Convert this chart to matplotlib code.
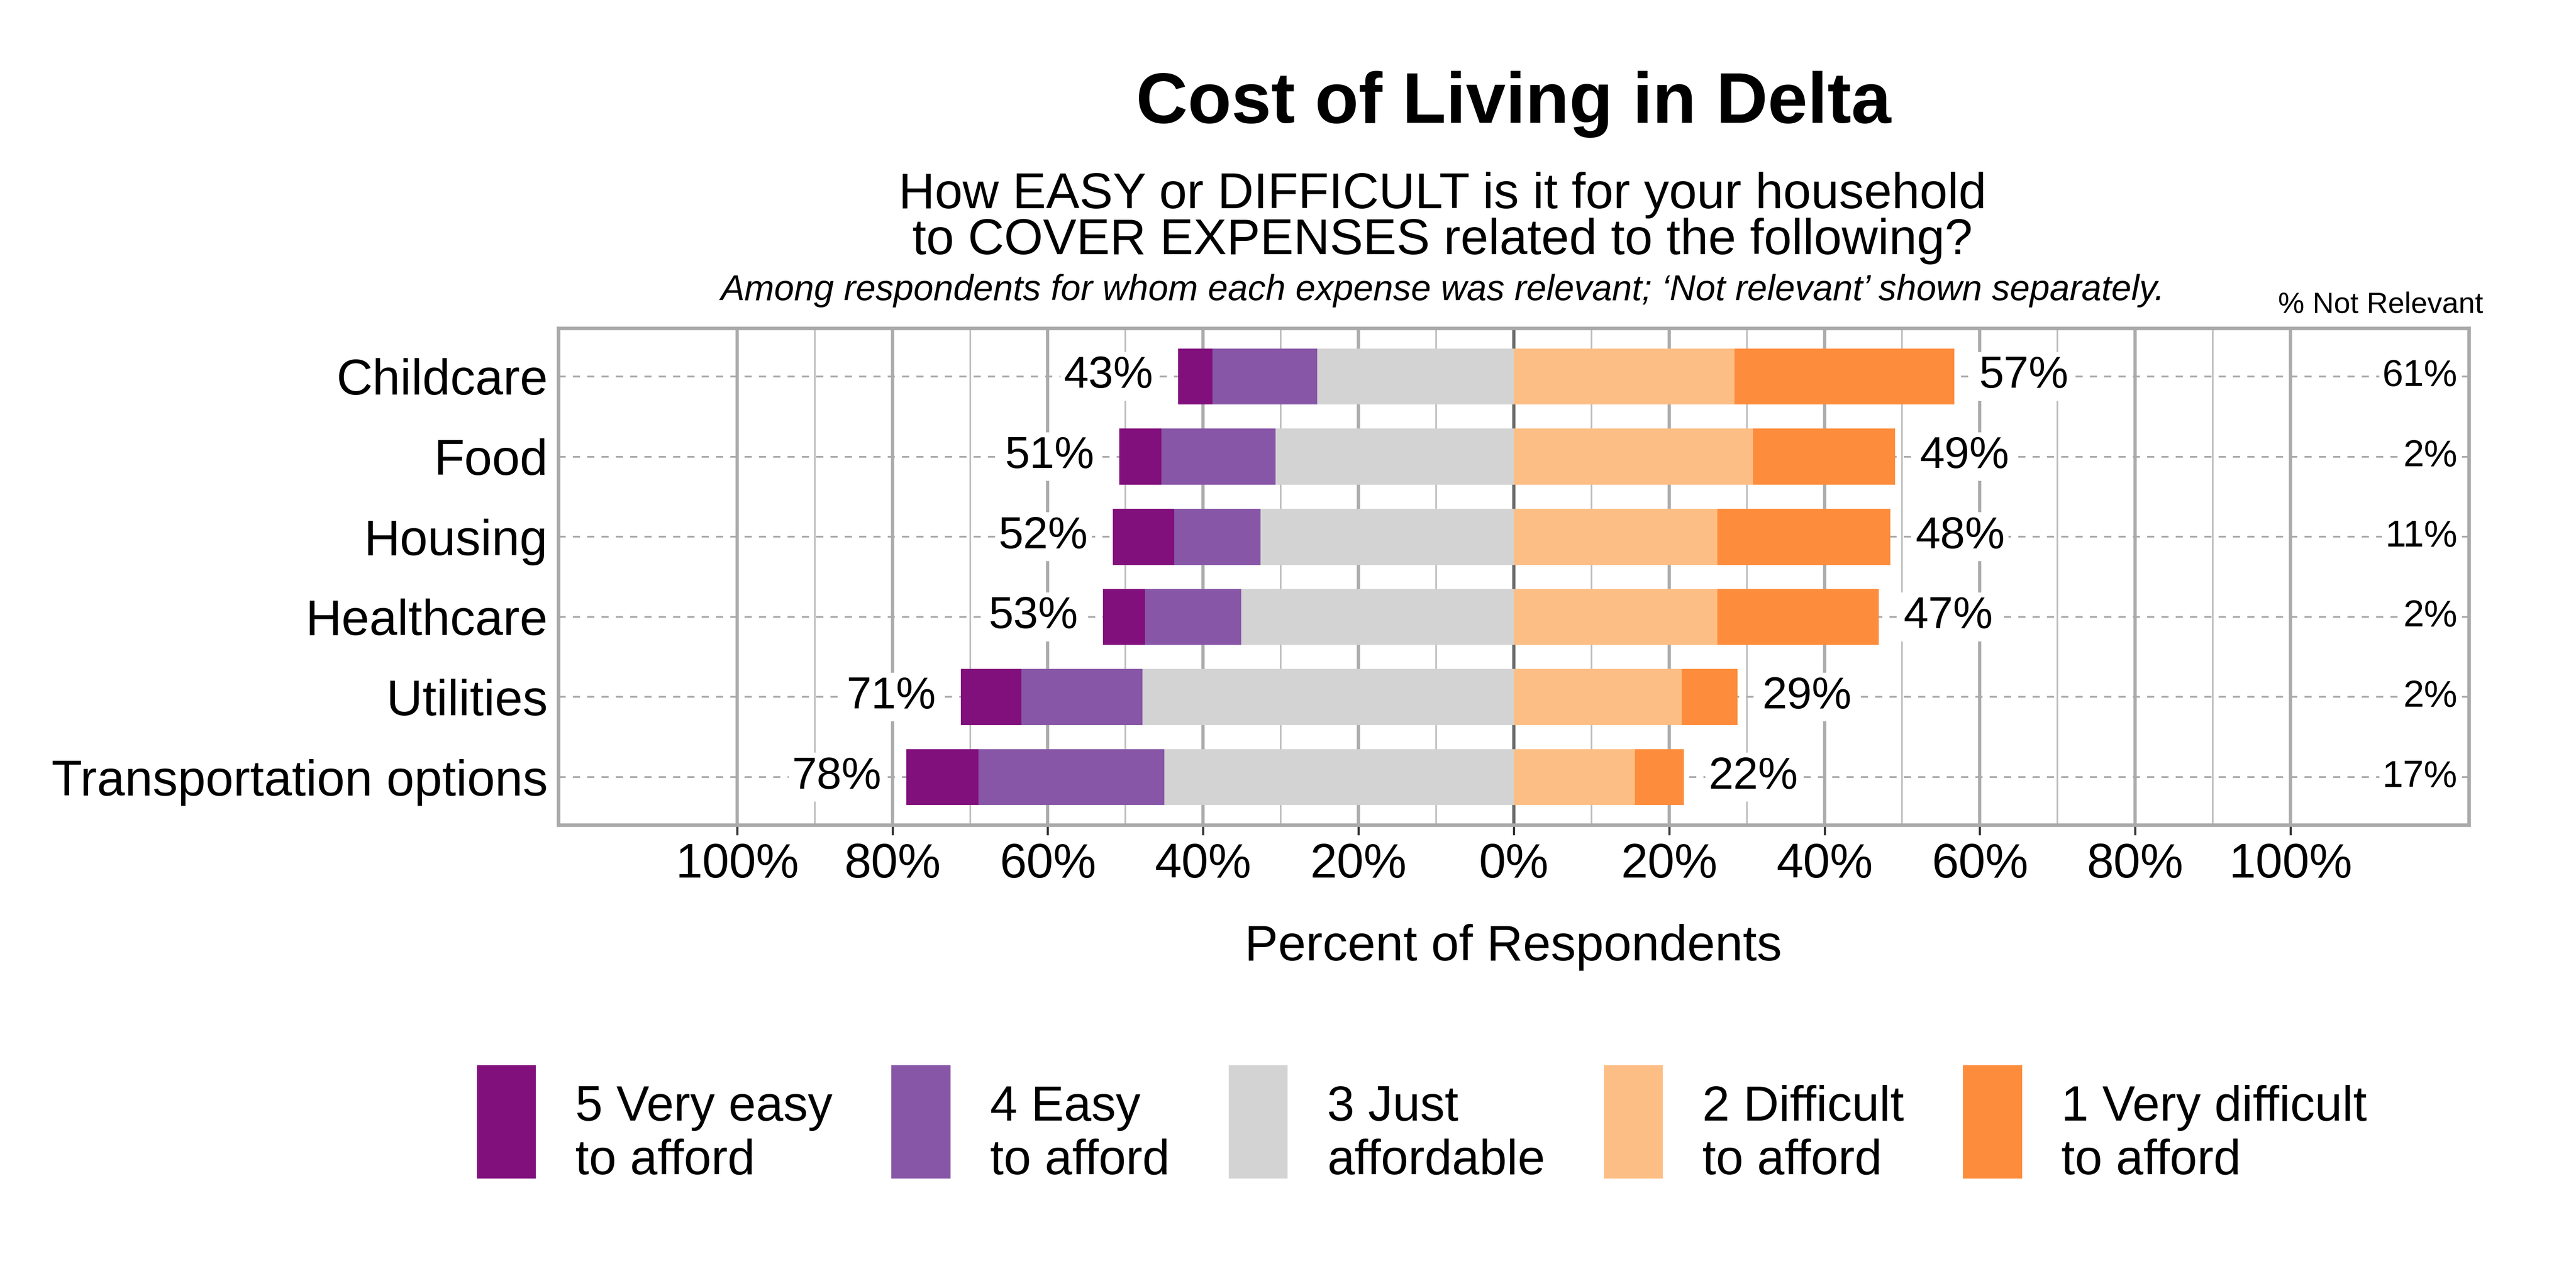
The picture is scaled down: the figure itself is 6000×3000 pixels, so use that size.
import numpy as np
import matplotlib
matplotlib.use("Agg")
import matplotlib.pyplot as plt
from matplotlib.patches import Patch, Rectangle
from matplotlib.legend_handler import HandlerPatch

plt.rcParams["font.family"] = ["Liberation Sans", "DejaVu Sans"]

# ---- data (percent of respondents) ----
categories = ["Childcare", "Food", "Housing", "Healthcare", "Utilities",
              "Transportation options"]
very_easy = [4.4, 5.4, 7.9, 5.4, 7.8, 9.3]
easy = [13.5, 14.7, 11.1, 12.4, 15.6, 23.9]
just_affordable = [25.3, 30.7, 32.6, 35.1, 47.8, 45.0]
difficult = [28.4, 30.8, 26.2, 26.2, 21.6, 15.6]
very_difficult = [28.3, 18.3, 22.3, 20.8, 7.2, 6.3]
easy_total_lbl = [43, 51, 52, 53, 71, 78]
difficult_total_lbl = [57, 49, 48, 47, 29, 22]
not_relevant = [61, 2, 11, 2, 2, 17]

legend_labels = ["5 Very easy\nto afford", "4 Easy\nto afford", "3 Just\naffordable",
                 "2 Difficult\nto afford", "1 Very difficult\nto afford"]
colors = ["#810F7C", "#8856A7", "#D3D3D3", "#FDBE85", "#FD8D3C"]

ve = np.array(very_easy); e = np.array(easy); j = np.array(just_affordable)
d = np.array(difficult); vd = np.array(very_difficult)
y = np.arange(len(categories))

fig = plt.figure(figsize=(20, 10), dpi=300)
ax = fig.add_axes([0.2168, 0.3593, 0.7417, 0.3857])

# grid
for g in range(-100, 101, 10):
    if g == 0:
        ax.axvline(g, color="#6b6b6b", lw=1.8, zorder=0.4)
    elif g % 20 == 0:
        ax.axvline(g, color="#ababab", lw=1.8, zorder=0.3)
    else:
        ax.axvline(g, color="#bdbdbd", lw=0.9, zorder=0.3)
for yy in y:
    ax.axhline(yy, color="#aaaaaa", lw=1.0, ls=(0, (4, 4)), zorder=0.5)

h = 0.70
ax.barh(y, -j, left=0, height=h, color=colors[2], zorder=2)
ax.barh(y, -e, left=-j, height=h, color=colors[1], zorder=2)
ax.barh(y, -ve, left=-(j + e), height=h, color=colors[0], zorder=2)
ax.barh(y, d, left=0, height=h, color=colors[3], zorder=2)
ax.barh(y, vd, left=d, height=h, color=colors[4], zorder=2)

box = dict(boxstyle="square,pad=0.08", fc="white", ec="none")
for i in range(len(categories)):
    lt = ve[i] + e[i] + j[i]
    rt = d[i] + vd[i]
    ax.text(-lt - 3.2, y[i], "%d%%" % easy_total_lbl[i], ha="right", va="center",
            fontsize=25, bbox=box, zorder=3)
    ax.text(rt + 3.2, y[i], "%d%%" % difficult_total_lbl[i], ha="left", va="center",
            fontsize=25, bbox=box, zorder=3)
    ax.text(121.5, y[i], "%d%%" % not_relevant[i], ha="right", va="center",
            fontsize=21, bbox=box, zorder=3)

ax.set_xlim(-123, 123)
ax.set_ylim(len(categories) - 0.4, -0.6)
ax.set_yticks(y)
ax.set_yticklabels(categories)
ticks = np.arange(-100, 101, 20)
ax.set_xticks(ticks)
ax.set_xticklabels(["%d%%" % abs(t) for t in ticks])
ax.tick_params(axis="x", direction="out", length=5.5, width=1.2, color="#333333",
               labelsize=27, pad=4)
ax.tick_params(axis="y", length=0, labelsize=28, pad=6)
for s in ax.spines.values():
    s.set_color("#aaaaaa")
    s.set_linewidth(2.0)

# titles
fig.text(0.5875, 0.9047, "Cost of Living in Delta", ha="center", va="baseline",
         fontsize=40, fontweight="bold")
fig.text(0.56, 0.8383, "How EASY or DIFFICULT is it for your household",
         ha="center", va="baseline", fontsize=28)
fig.text(0.56, 0.8027, "to COVER EXPENSES related to the following?",
         ha="center", va="baseline", fontsize=28)
fig.text(0.56, 0.767, "Among respondents for whom each expense was relevant; "
         "\u2018Not relevant\u2019 shown separately.",
         ha="center", va="baseline", fontsize=20, style="italic")
fig.text(0.964, 0.7573, "% Not Relevant", ha="right", va="baseline", fontsize=16.5)
fig.text(0.5875, 0.2543, "Percent of Respondents", ha="center", va="baseline",
         fontsize=28)


# legend keys sit a little higher than the text block
def raised_patch(legend, orig_handle, xdescent, ydescent, width, height, fontsize):
    return Rectangle((-xdescent, -ydescent + 9.1), width, height)


handles = [Patch(facecolor=c, edgecolor="none") for c in colors]
leg = fig.legend(handles, legend_labels, ncol=5, loc="center",
                 bbox_to_anchor=(0.552, 0.1163), frameon=False, fontsize=27.5,
                 handlelength=1.2, handleheight=3.16, handletextpad=0.8,
                 columnspacing=1.2,
                 handler_map={Patch: HandlerPatch(patch_func=raised_patch)})
for t in leg.get_texts():
    t.set_linespacing(1.21)

fig.savefig("out.png", dpi=300, facecolor="white")
